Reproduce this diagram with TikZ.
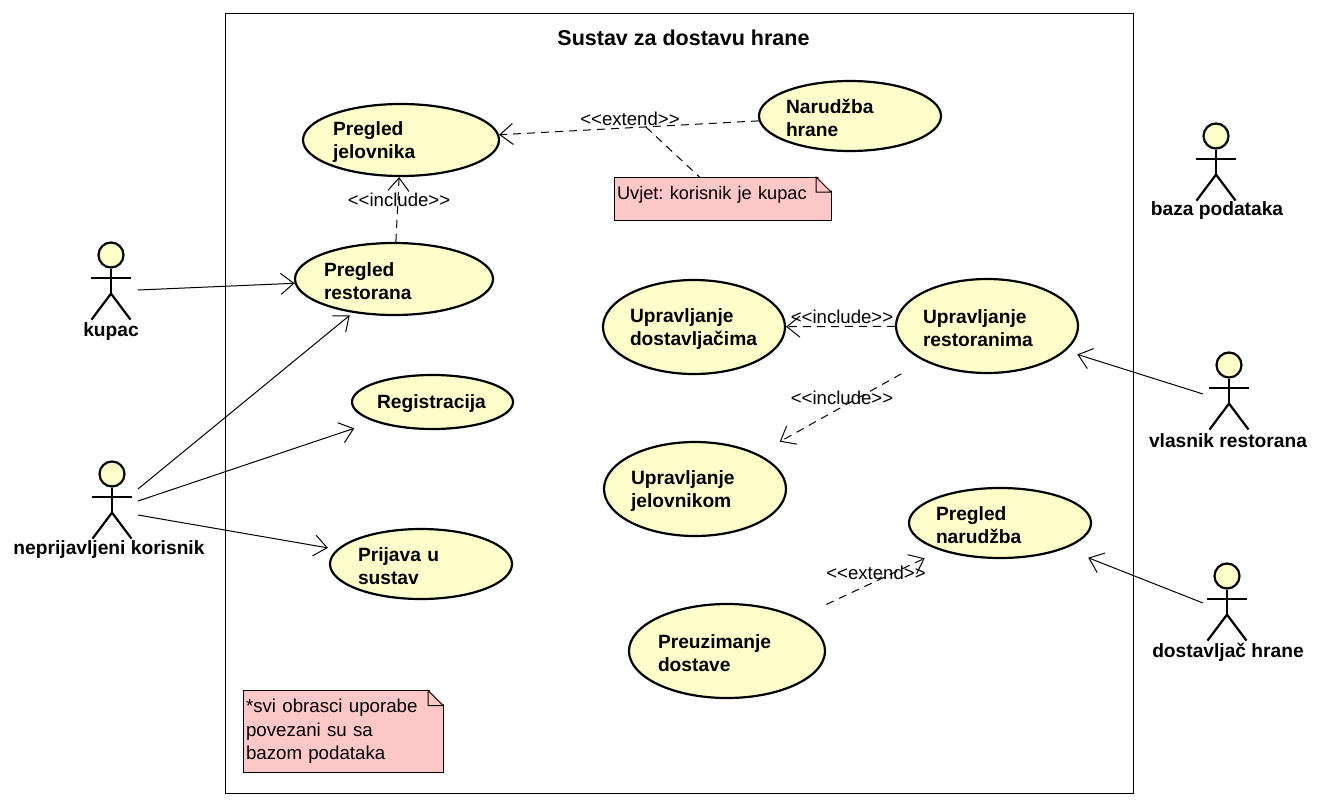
\documentclass[tikz,border=0pt]{standalone}
\usepackage{fontspec}
\setmainfont{Liberation Sans}
\usetikzlibrary{arrows.meta,shapes.geometric,positioning}
\definecolor{casefill}{HTML}{FFFFCC}
\definecolor{notefill}{HTML}{FFC8C8}
\frenchspacing
\tikzset{
  usecase/.style n args = {3}{ellipse, draw, line width=2.2pt, fill=casefill, inner sep=0pt,
                   minimum width=#1, minimum height=#2, text width=#3, align=left,
                   execute at begin node={\rule{0pt}{17.5pt}},
                   font=\fontsize{19.2}{23}\selectfont\bfseries},
  actorname/.style = {inner sep=0pt, font=\fontsize{19.2}{22}\selectfont\bfseries},
  stick/.style = {line width=2.2pt},
  notebox/.style n args = {3}{draw, line width=1pt, fill=notefill, inner sep=3pt, outer sep=0pt,
                   minimum width=#1, minimum height=#2, text width=#3, align=left,
                   font=\fontsize{18.7}{23.5}\selectfont},
  stereo/.style = {inner sep=0pt, font=\fontsize{18.6}{20}\selectfont},
  assoc/.style = {line width=1pt, ->},
  depend/.style = {line width=1pt, ->, dash pattern=on 8pt off 6pt},
  >={Straight Barb[length=13pt,width=21pt,line width=1pt]}
}
% stick figure: name, head x, head y, label x, label y, label
\newcommand{\actorfig}[6]{
  \node[circle, draw, stick, fill=casefill, minimum size=25pt, inner sep=0pt] (#1) at (#2,#3) {};
  \draw[stick] (#1.south) -- ++(0,25) coordinate (#1hip);
  \draw[stick] ([xshift=-20pt,yshift=-9pt]#1.south) -- ++(40,0);
  \draw[stick] ([xshift=-19.5pt,yshift=-26pt]#1hip) -- (#1hip) -- ([xshift=19.5pt,yshift=-26pt]#1hip);
  \node[actorname] (#1name) at (#4,#5) {#6};
}
% folded corner of a note
\newcommand{\notefold}[1]{
  \fill[white] ([xshift=-15pt,yshift=2pt]#1.north east) -- ([xshift=2pt,yshift=2pt]#1.north east) -- ([xshift=2pt,yshift=-15pt]#1.north east) -- cycle;
  \draw[line width=1pt, fill=notefill] ([xshift=-15pt]#1.north east) -- ([yshift=-15pt]#1.north east)
    -- ([xshift=-15pt,yshift=-15pt]#1.north east) -- cycle;
}

\begin{document}
\begin{tikzpicture}[x=1pt, y=-1pt]
\useasboundingbox (0,0) rectangle (1324,806);

% system boundary
\node[draw, line width=1pt, minimum width=908pt, minimum height=780pt, inner sep=0pt] (sustav) at (679.3,403.4) {};
\node[font=\fontsize{21.5}{24}\selectfont\bfseries, inner sep=0pt] (naslov) at (683.5,38) {Sustav za dostavu hrane};

% use cases
\node[usecase={196pt}{72pt}{136pt}] (jelovnik) at (401,140) {Pregled\\jelovnika};
\node[usecase={182pt}{70pt}{128pt}] (narudzba) at (850,116) {Narudžba\\hrane};
\node[usecase={196pt}{72pt}{140pt}] (restoran) at (394,279) {Pregled\\restorana};
\node[usecase={182pt}{94pt}{128pt}] (dostavljaci) at (694,327) {Upravljanje\\dostavljačima};
\node[usecase={182pt}{94pt}{128pt}] (restorani) at (987,326) {Upravljanje\\restoranima};
\node[usecase={161pt}{54pt}{111pt}] (registracija) at (432.5,402) {Registracija};
\node[usecase={182pt}{94pt}{128pt}] (upjelovnik) at (695,489) {Upravljanje\\jelovnikom};
\node[usecase={182pt}{70pt}{128pt}] (pregnarudzba) at (1000,523) {Pregled\\narudžba};
\node[usecase={182pt}{70pt}{126pt}] (prijava) at (421,564) {Prijava u\\sustav};
\node[usecase={196pt}{94pt}{138pt}] (preuzimanje) at (727,651) {Preuzimanje\\dostave};

% actors
\actorfig{kupac}{111}{255}{111}{332}{kupac}
\actorfig{neprijavljeni}{112}{474}{109}{550}{neprijavljeni korisnik}
\actorfig{baza}{1216}{136}{1217}{211}{baza podataka}
\actorfig{vlasnik}{1229}{365}{1228}{441}{vlasnik restorana}
\actorfig{dostavljac}{1227}{576}{1228}{652}{dostavljač hrane}

% free ends of the associations
\coordinate (kupacA) at (138,290);
\coordinate (neprijA) at (138,489);
\coordinate (neprijB) at (138,501);
\coordinate (neprijC) at (138,515);
\coordinate (vlasnikA) at (1203,394);
\coordinate (dostavljacA) at (1203,603);

% associations
\draw[assoc] (kupacA) -- (restoran);
\draw[assoc, shorten >=4pt] (neprijA) -- (restoran);
\draw[assoc, shorten >=21pt] (neprijB) -- (registracija);
\draw[assoc, shorten >=9pt] (neprijC) -- (prijava);
\draw[assoc, shorten >=12pt] (vlasnikA) -- (restorani);
\draw[assoc, shorten >=25pt] (dostavljacA) -- (pregnarudzba);

% include and extend
\draw[depend] (restoran) -- (jelovnik);
\draw[depend] (narudzba) -- coordinate[pos=.435] (uvjetpt) (jelovnik);
\draw[depend] (restorani) -- (dostavljaci);
\draw[depend, shorten <=26pt, shorten >=25pt] (restorani) -- (upjelovnik);
\draw[depend, shorten <=31pt, shorten >=18pt] (preuzimanje) -- (pregnarudzba);

\node[stereo] (incA) at (399,199.5) {<{}<include>{}>};
\node[stereo] (extA) at (630,118.5) {<{}<extend>{}>};
\node[stereo] (incB) at (842,316.5) {<{}<include>{}>};
\node[stereo] (incC) at (842,397.5) {<{}<include>{}>};
\node[stereo] (extB) at (876,572.5) {<{}<extend>{}>};

% notes
\node[notebox={217pt}{43pt}{211pt}, anchor=north west] (uvjet) at (614,177) {\raisebox{10.5pt}{\fontsize{18.2}{23.5}\selectfont Uvjet: korisnik je kupac}};
\notefold{uvjet}
\node[notebox={200pt}{82pt}{194pt}, anchor=north west] (svi) at (243,690.5) {*svi obrasci uporabe\\povezani su sa\\bazom podataka};
\notefold{svi}
\draw[line width=1pt, dash pattern=on 8pt off 6pt] (uvjetpt) -- (uvjet);
\end{tikzpicture}
\end{document}
